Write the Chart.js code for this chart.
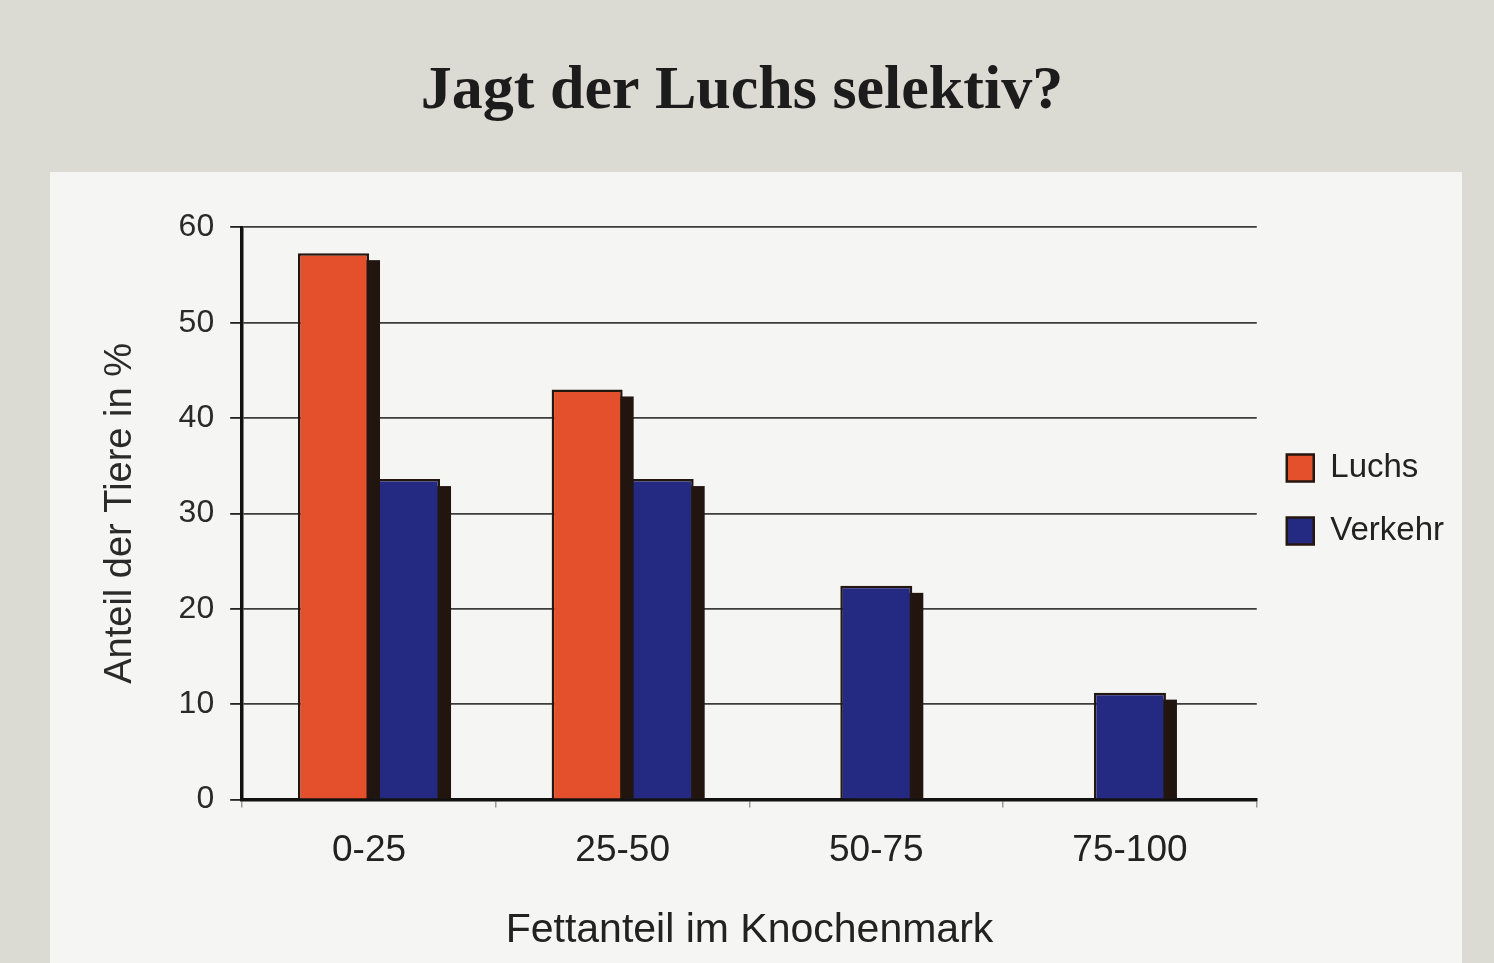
<!DOCTYPE html>
<html>
<head>
<meta charset="utf-8">
<script src="https://cdn.jsdelivr.net/npm/chart.js@4.4.0/dist/chart.umd.min.js"></script>
<style>
  html, body { margin: 0; padding: 0; background: #dcdbd4; }
  #wrap { width: 1494px; height: 963px; position: relative; }
</style>
</head>
<body>
<div id="wrap"><canvas id="c" width="1494" height="963"></canvas></div>
<script>
const titleText = 'Jagt der Luchs selektiv?';
const categories = ['0-25', '25-50', '50-75', '75-100'];
const luchsValues = [57.3, 43.0, null, null];
const verkehrValues = [33.6, 33.6, 22.4, 11.2];
const seriesNames = ['Luchs', 'Verkehr'];
const yTitle = 'Anteil der Tiere in %';
const xTitle = 'Fettanteil im Knochenmark';

const SANS = '"Liberation Sans", Arial, sans-serif';

const pagePlugin = {
  id: 'page',
  beforeDraw(chart) {
    const ctx = chart.ctx;
    ctx.save();
    ctx.fillStyle = '#dbdad3';
    ctx.fillRect(0, 0, chart.width, chart.height);
    ctx.fillStyle = '#f5f5f3';
    ctx.fillRect(50, 172, 1412, 791);
    ctx.restore();
  }
};

// dark drop shadow to the lower right of every bar, drawn from the bar elements
const shadowPlugin = {
  id: 'barShadow',
  beforeDatasetDraw(chart, args) {
    const ctx = chart.ctx;
    const meta = args.meta;
    const area = chart.chartArea;
    ctx.save();
    ctx.beginPath();
    ctx.rect(area.left, area.top, area.right - area.left, area.bottom - area.top);
    ctx.clip();
    ctx.fillStyle = '#22150f';
    meta.data.forEach((el, i) => {
      const v = chart.data.datasets[args.index].data[i];
      if (v === null || v === undefined) return;
      const p = el.getProps(['x', 'y', 'base', 'width'], true);
      const dx = 11, dy = 7;
      ctx.fillRect(p.x - p.width / 2 + dx, p.y + dy, p.width, p.base - p.y - dy);
    });
    ctx.restore();
  }
};

new Chart(document.getElementById('c'), {
  type: 'bar',
  data: {
    labels: categories,
    datasets: [
      { label: seriesNames[0], data: luchsValues, backgroundColor: '#e3502b', borderColor: '#24170f', borderWidth: 2.5 },
      { label: seriesNames[1], data: verkehrValues, backgroundColor: '#242a82', borderColor: '#24170f', borderWidth: 2.5 }
    ]
  },
  options: {
    responsive: false,
    animation: false,
    skipNull: true,
    categoryPercentage: 0.56,
    barPercentage: 1.0,
    maxBarThickness: 72,
    layout: { padding: { left: 30, right: 40, top: 0, bottom: 8 } },
    plugins: {
      title: {
        display: true,
        text: titleText,
        color: '#1c1c1c',
        font: { family: '"Liberation Serif", serif', size: 62, weight: 'bold' },
        padding: { top: 55, bottom: 98 }
      },
      legend: {
        position: 'right',
        align: 'center',
        title: { display: true, text: ' ', font: { size: 20 }, padding: 10 },
        labels: {
          color: '#222',
          font: { family: SANS, size: 33 },
          boxWidth: 27,
          boxHeight: 27,
          padding: 30
        }
      },
      tooltip: { enabled: false }
    },
    scales: {
      x: {
        grid: { display: true, drawOnChartArea: false, offset: true, tickLength: 8, color: '#999', lineWidth: 1.5 },
        border: { display: true, color: '#111', width: 3.5 },
        ticks: { color: '#222', font: { family: SANS, size: 37 }, padding: 21 },
        title: { display: true, text: xTitle, color: '#222', font: { family: SANS, size: 41 }, padding: { top: 12, bottom: 0 } }
      },
      y: {
        min: 0, max: 60,
        ticks: { stepSize: 10, color: '#2a2a2a', font: { family: SANS, size: 32 }, padding: 16 },
        grid: { color: '#3d3d3d', lineWidth: 1.8, tickLength: 12, tickColor: '#222' },
        border: { display: true, color: '#111', width: 3.5 },
        title: { display: true, text: yTitle, color: '#2a2a2a', font: { family: SANS, size: 38 }, padding: { top: 68, bottom: 19 } }
      }
    }
  },
  plugins: [pagePlugin, shadowPlugin]
});
</script>
</body>
</html>
